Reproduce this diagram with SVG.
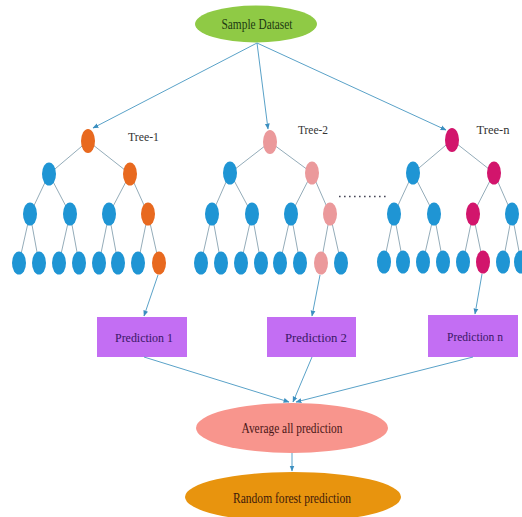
<svg xmlns="http://www.w3.org/2000/svg" width="522" height="517" viewBox="0 0 522 517">
  <style>
    .lbl { font-family: "Liberation Serif", "Times New Roman", serif; text-anchor: middle; }
    .edge { stroke: #94acb9; stroke-width: 1; fill: none; }
    .conn { stroke: #5aa2c8; stroke-width: 1; fill: none; marker-end: url(#arr); }
    .leaf { fill: #1f95d4; }
    .t1 { fill: #e8691f; }
    .t2 { fill: #eb999b; }
    .tn { fill: #d2156c; }
  </style>
  <defs>
    <marker id="arr" viewBox="0 0 10 10" refX="9" refY="5" markerWidth="6" markerHeight="6" orient="auto" markerUnits="userSpaceOnUse">
      <path d="M0,1 L10,5 L0,9 z" fill="#3b8fc0"/>
    </marker>
  </defs>

  <rect width="522" height="517" fill="#ffffff"/>

  <!-- input -->
  <g id="sample-dataset">
    <ellipse cx="256" cy="24" rx="61" ry="18.5" fill="#8fca45"/>
    <text class="lbl" x="257" y="28.5" font-size="14" fill="#1e3a12" textLength="71" lengthAdjust="spacingAndGlyphs">Sample Dataset</text>
  </g>

  <!-- tree 1 -->
  <g id="tree-1">
    <g class="edge">
      <path d="M88,141 L49,174 M88,141 L130,174 M49,174 L30,214 M49,174 L70,214 M130,174 L109,214 M130,174 L148,214 M30,214 L19,263 M30,214 L39,263 M70,214 L59,263 M70,214 L79,263 M109,214 L99,263 M109,214 L118,263 M148,214 L138,263 M148,214 L159,263"/>
    </g>
    <g id="tree-1-nodes">
      <ellipse class="t1" cx="88" cy="141" rx="7" ry="12"/>
      <ellipse class="leaf" cx="49" cy="174" rx="7" ry="11.5"/>
      <ellipse class="t1" cx="130" cy="174" rx="7" ry="11.5"/>
      <ellipse class="leaf" cx="30" cy="214" rx="7" ry="11.5"/>
      <ellipse class="leaf" cx="70" cy="214" rx="7" ry="11.5"/>
      <ellipse class="leaf" cx="109" cy="214" rx="7" ry="11.5"/>
      <ellipse class="t1" cx="148" cy="214" rx="7" ry="11.5"/>
      <ellipse class="leaf" cx="19" cy="263" rx="7" ry="11.5"/>
      <ellipse class="leaf" cx="39" cy="263" rx="7" ry="11.5"/>
      <ellipse class="leaf" cx="59" cy="263" rx="7" ry="11.5"/>
      <ellipse class="leaf" cx="79" cy="263" rx="7" ry="11.5"/>
      <ellipse class="leaf" cx="99" cy="263" rx="7" ry="11.5"/>
      <ellipse class="leaf" cx="118" cy="263" rx="7" ry="11.5"/>
      <ellipse class="leaf" cx="138" cy="263" rx="7" ry="11.5"/>
      <ellipse class="t1" cx="159" cy="263" rx="7" ry="11.5"/>
    </g>
    <text class="lbl" x="143.5" y="141" font-size="13" fill="#333333" textLength="31" lengthAdjust="spacingAndGlyphs">Tree-1</text>
  </g>

  <!-- tree 2 -->
  <g id="tree-2">
    <g class="edge">
      <path d="M270,142 L230,173 M270,142 L312,173 M230,173 L212,214 M230,173 L252,214 M312,173 L291,214 M312,173 L330,214 M212,214 L201,263 M212,214 L221,263 M252,214 L241,263 M252,214 L261,263 M291,214 L280,263 M291,214 L300,263 M330,214 L321,263 M330,214 L341,263"/>
    </g>
    <g id="tree-2-nodes">
      <ellipse class="t2" cx="270" cy="142" rx="7" ry="12"/>
      <ellipse class="leaf" cx="230" cy="173" rx="7" ry="11.5"/>
      <ellipse class="t2" cx="312" cy="173" rx="7" ry="11.5"/>
      <ellipse class="leaf" cx="212" cy="214" rx="7" ry="11.5"/>
      <ellipse class="leaf" cx="252" cy="214" rx="7" ry="11.5"/>
      <ellipse class="leaf" cx="291" cy="214" rx="7" ry="11.5"/>
      <ellipse class="t2" cx="330" cy="214" rx="7" ry="11.5"/>
      <ellipse class="leaf" cx="201" cy="263" rx="7" ry="11.5"/>
      <ellipse class="leaf" cx="221" cy="263" rx="7" ry="11.5"/>
      <ellipse class="leaf" cx="241" cy="263" rx="7" ry="11.5"/>
      <ellipse class="leaf" cx="261" cy="263" rx="7" ry="11.5"/>
      <ellipse class="leaf" cx="280" cy="263" rx="7" ry="11.5"/>
      <ellipse class="leaf" cx="300" cy="263" rx="7" ry="11.5"/>
      <ellipse class="t2" cx="321" cy="263" rx="7" ry="11.5"/>
      <ellipse class="leaf" cx="341" cy="263" rx="7" ry="11.5"/>
    </g>
    <text class="lbl" x="313" y="134" font-size="13" fill="#333333" textLength="30" lengthAdjust="spacingAndGlyphs">Tree-2</text>
  </g>

  <!-- gap between tree 2 and tree n -->
  <line id="ellipsis" x1="339" y1="196.5" x2="388" y2="196.5" stroke="#444455" stroke-width="1.6" stroke-dasharray="1.6 3.4"/>

  <!-- tree n -->
  <g id="tree-n">
    <g class="edge">
      <path d="M452,140 L413,173 M452,140 L494,173 M413,173 L394,214 M413,173 L434,214 M494,173 L473,214 M494,173 L512,214 M394,214 L384,262 M394,214 L403,262 M434,214 L423,262 M434,214 L443,262 M473,214 L463,262 M473,214 L483,262 M512,214 L503,262 M512,214 L521,262"/>
    </g>
    <g id="tree-n-nodes">
      <ellipse class="tn" cx="452" cy="140" rx="7" ry="12"/>
      <ellipse class="leaf" cx="413" cy="173" rx="7" ry="11.5"/>
      <ellipse class="tn" cx="494" cy="173" rx="7" ry="11.5"/>
      <ellipse class="leaf" cx="394" cy="214" rx="7" ry="11.5"/>
      <ellipse class="leaf" cx="434" cy="214" rx="7" ry="11.5"/>
      <ellipse class="tn" cx="473" cy="214" rx="7" ry="11.5"/>
      <ellipse class="leaf" cx="512" cy="214" rx="7" ry="11.5"/>
      <ellipse class="leaf" cx="384" cy="262" rx="7" ry="11.5"/>
      <ellipse class="leaf" cx="403" cy="262" rx="7" ry="11.5"/>
      <ellipse class="leaf" cx="423" cy="262" rx="7" ry="11.5"/>
      <ellipse class="leaf" cx="443" cy="262" rx="7" ry="11.5"/>
      <ellipse class="leaf" cx="463" cy="262" rx="7" ry="11.5"/>
      <ellipse class="tn" cx="483" cy="262" rx="7" ry="11.5"/>
      <ellipse class="leaf" cx="503" cy="262" rx="7" ry="11.5"/>
      <ellipse class="leaf" cx="521" cy="262" rx="7" ry="11.5"/>
    </g>
    <text class="lbl" x="493" y="134" font-size="13" fill="#333333" textLength="33" lengthAdjust="spacingAndGlyphs">Tree-n</text>
  </g>

  <!-- per-tree predictions -->
  <g id="prediction-1">
    <rect x="97" y="317" width="90" height="40" fill="#c36ef3"/>
    <text class="lbl" x="144" y="341.5" font-size="13.5" fill="#3a1766" textLength="58" lengthAdjust="spacingAndGlyphs">Prediction 1</text>
  </g>
  <g id="prediction-2">
    <rect x="267" y="317" width="89" height="40" fill="#c36ef3"/>
    <text class="lbl" x="316" y="341.5" font-size="13.5" fill="#3a1766" textLength="62" lengthAdjust="spacingAndGlyphs">Prediction 2</text>
  </g>
  <g id="prediction-n">
    <rect x="428" y="315" width="90" height="42" fill="#c36ef3"/>
    <text class="lbl" x="475" y="340.5" font-size="13.5" fill="#3a1766" textLength="56" lengthAdjust="spacingAndGlyphs">Prediction n</text>
  </g>

  <!-- aggregation -->
  <g id="average">
    <ellipse cx="292" cy="428" rx="96" ry="25" fill="#f8958d"/>
    <text class="lbl" x="292" y="433" font-size="14" fill="#4a1616" textLength="101" lengthAdjust="spacingAndGlyphs">Average all prediction</text>
  </g>
  <g id="random-forest">
    <ellipse cx="293" cy="497" rx="108" ry="25" fill="#e8940e"/>
    <text class="lbl" x="292" y="502.5" font-size="14" fill="#3e1a0a" textLength="118" lengthAdjust="spacingAndGlyphs">Random forest prediction</text>
  </g>

  <!-- connectors -->
  <g id="connectors">
    <path class="conn" d="M257,43 L93,128"/>
    <path class="conn" d="M257,43 L268,129"/>
    <path class="conn" d="M257,43 L446,130"/>
    <path class="conn" d="M158,275 L144,316"/>
    <path class="conn" d="M320,275 L312,316"/>
    <path class="conn" d="M482,274 L475,314"/>
    <path class="conn" d="M144,357 L289,402"/>
    <path class="conn" d="M312,357 L293,402"/>
    <path class="conn" d="M473,357 L296,402"/>
    <path class="conn" d="M292,453 L292,471"/>
  </g>
</svg>
